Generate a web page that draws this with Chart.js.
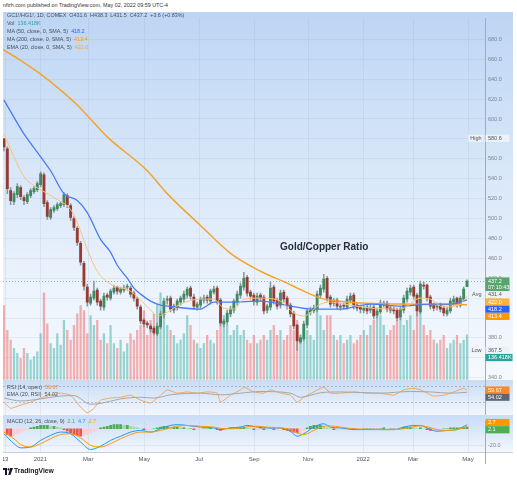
<!DOCTYPE html>
<html><head><meta charset="utf-8">
<script src="https://cdn.jsdelivr.net/npm/chart.js@4.4.1/dist/chart.umd.min.js"></script>
<style>
html,body{margin:0;padding:0;}
body{width:517px;height:480px;background:#fff;position:relative;overflow:hidden;font-family:"Liberation Sans",Arial,sans-serif;color:#3c4048;}
.abs{position:absolute;}
.pane{left:3px;width:510px;}
#mainBg{top:12px;height:368px;background:linear-gradient(to bottom,#bdd5f4 0%,#d3e4f8 35%,#ecf3fc 75%,#f5f9fe 100%);}
#rsiBg{top:380px;height:35px;background:linear-gradient(to bottom,#c9ddf6,#f3f7fd);border-top:1px solid #d3dbe6;box-sizing:border-box;}
#macdBg{top:415px;height:37px;background:linear-gradient(to bottom,#c9ddf6,#f3f7fd);border-top:1px solid #d3dbe6;box-sizing:border-box;}
.txt{font-size:5.4px;white-space:nowrap;color:#4a4f59;}
</style></head><body>
<div id="mainBg" class="abs pane"></div>
<div id="rsiBg" class="abs pane"></div>
<div id="macdBg" class="abs pane"></div>
<canvas id="cMain" class="abs" style="left:3px;top:12px;width:510px;height:374px" width="510" height="374"></canvas>
<canvas id="cRsi" class="abs" style="left:3px;top:380px;width:510px;height:35px" width="510" height="35"></canvas>
<canvas id="cMacd" class="abs" style="left:3px;top:415px;width:510px;height:50px" width="510" height="50"></canvas>

<div class="abs txt" style="left:3px;top:2px;color:#333">nftrh.com published on TradingView.com, May 02, 2022 09:59 UTC-4</div>
<div class="abs txt" style="left:7px;top:12px;line-height:7.9px">
<div>GC1!/HG1!, 1D, COMEX&nbsp; <span id="ohlc"></span></div>
<div>Vol&nbsp; <span id="lgVol" style="color:#26a69a"></span></div>
<div>MA (50, close, 0, SMA, 5)&nbsp; <span id="lgMa50" style="color:#2962ff"></span></div>
<div>MA (200, close, 0, SMA, 5)&nbsp; <span id="lgMa200" style="color:#ff9800"></span></div>
<div>EMA (20, close, 0, SMA, 5)&nbsp; <span id="lgEma" style="color:#ffa726"></span></div>
</div>
<div class="abs" style="left:280px;top:241px;font-size:10px;font-weight:bold;color:#2a2e39;line-height:12px;white-space:nowrap">Gold/Copper Ratio</div>
<div class="abs txt" style="left:7px;top:383.5px;line-height:7px">
<div>RSI (14, open)&nbsp; <span id="lgRsi" style="color:#f7892b"></span></div>
<div>EMA (20, RSI)&nbsp; <span id="lgRsiEma" style="color:#555"></span></div>
</div>
<div class="abs txt" style="left:7px;top:417px;line-height:8px">
<div>MACD (12, 26, close, 9)&nbsp; <span id="lgHist" style="color:#4caf50"></span>&nbsp; <span id="lgMacd" style="color:#2196f3"></span>&nbsp; <span id="lgSig" style="color:#ff9800"></span></div>
</div>
<svg class="abs" style="left:3px;top:468px" width="10" height="7" viewBox="0 0 10 7">
<path d="M0 0H4V7H2V2H0Z" fill="#131722"/><circle cx="5.6" cy="1.3" r="1.1" fill="#131722"/><path d="M7.2 0H10L7.4 7H5.2Z" fill="#131722"/></svg>
<div class="abs" style="left:14px;top:467px;font-size:6.8px;font-weight:bold;color:#131722;white-space:nowrap;line-height:8px">TradingView</div>

<script>
// ---------- data ----------
const opens=[580,570,528,517,524,531,521,517,523,527,
 529,534,544,516,501,508,510,513,514,523,
 513,500,490,475,455,431,415,420,428,417,
 411,423,420,426,431,426,428,431,430,425,
 419,411,398,395,392,390,384,391,403,418,
 420,408,411,416,419,423,430,421,411,413,
 418,421,417,426,430,418,394,396,404,408,
 416,423,431,441,426,423,416,423,421,408,
 411,431,418,413,426,420,413,405,393,376,
 379,393,406,407,409,423,429,440,421,415,
 418,411,413,411,418,423,413,411,408,411,
 408,411,403,406,414,415,410,409,408,401,
 408,419,426,431,423,406,433,433,421,413,
 411,413,410,404,407,416,420,413,419,431.6];
const highs=[580.6,572,531,527,535,533,523,526,530,532,
 537,547,546,518,511,513,516,517,526,525,
 515,502,492,477,457,434,424,437,430,419,
 425,425,429,433,432,431,433,434,432,427,
 421,413,400,397,394,392,395,407,420,422,
 422,414,419,422,427,431,432,424,416,421,
 423,423,429,432,432,420,399,408,412,419,
 427,435,446,443,428,425,425,425,423,414,
 436,433,420,428,428,422,415,407,394,383,
 397,410,411,413,427,433,444,442,423,420,
 420,415,415,422,425,425,415,413,413,413,
 413,413,409,418,417,417,412,411,410,411,
 423,430,433,433,425,437,436,434,423,415,
 415,415,412,411,420,422,421,422,431,438.3];
const lows=[568,525,514,514,521,519,514,515,521,525,
 527,532,512,499,499,506,508,511,512,511,
 498,488,473,453,428,412,413,418,413,408,
 408,418,418,424,424,424,426,428,421,417,
 409,394,391,390,386,383,382,389,400,414,
 406,405,408,413,416,420,419,409,408,410,
 415,415,414,424,414,392,391,393,401,405,
 413,420,428,422,419,413,413,417,404,405,
 408,414,409,410,416,409,401,389,367.5,374,
 377,390,403,405,406,420,426,417,411,412,
 409,408,409,409,415,409,407,405,405,404,
 405,399,400,404,411,406,405,404,397,398,
 405,416,423,419,402,404,429,417,409,407,
 408,406,402,402,405,413,411,411,417,431.5];
const closes=[572,530,518,525,532,522,518,524,528,530,
 535,545,515,502,509,511,514,515,524,514,
 501,491,476,456,432,416,421,427,416,412,
 422,421,427,430,427,429,430,431,424,420,
 412,397,394,393,389,385,392,404,417,419,
 409,412,417,420,424,429,422,412,414,419,
 420,418,427,429,417,395,397,405,409,417,
 424,432,440,425,422,417,422,420,407,412,
 430,417,412,425,419,412,404,392,377,380,
 394,407,408,410,424,430,439,420,414,417,
 412,412,412,419,422,412,410,409,410,407,
 410,402,407,415,414,409,408,407,400,409,
 420,427,430,422,407,434,432,420,412,410,
 412,409,405,408,417,419,414,420,429,437.2];
const volumes=[225,150,120,95,80,65,95,80,60,70,
 85,140,264,170,110,95,140,105,180,150,
 120,165,200,225,210,140,195,165,180,120,
 140,110,165,110,95,120,85,110,140,120,
 150,165,210,135,180,200,230,264,195,165,
 150,135,110,120,140,195,165,120,110,95,
 110,135,120,110,150,180,195,165,135,150,
 165,135,150,120,110,135,110,120,135,120,
 150,165,135,150,120,135,165,150,180,135,
 165,150,135,120,210,195,150,195,195,135,
 120,135,110,120,135,110,120,135,150,135,
 165,180,219,195,165,135,150,165,180,195,
 165,180,195,150,225,210,165,135,150,120,
 110,120,135,95,110,120,135,110,120,136.418];
const ma50Idx=[0,6,11,14,18,22,25,29,32,34,37,39,41,44,47,49,59,63,68,77,86,92,101,110,119,128,134,139];
const ma50Val=[619,585,562,548,525,518,506,479,466,453,440,430,424,417,413,412,409,416,416,417,412,409,409,414,412,414,414,418.2];
const ma200Idx=[-1,5,11,17,22,31,43,49,59,68,77,85,90,95,100,107,119,131,139];
const ma200Val=[671,659,645,629,614,582,548,525,493,465,447,435,427,420,417,415,414,413.6,413.4];
const emaIdx=[0,3,6,9,12,16,20,22,25,28,32,38,44,46,48,50,53,59,63,66,69,72,77,83,87,90,95,98,102,110,119,125,128,132,137,139];
const emaVal=[585,562,542,533,527,519,509,496,469,447,434,427,408,402,404,408,414,419,419,410,409,419,420,417,405,402,414,416,414,410,409,420,419,411,414,422.0];
const rsiIdx=[0,2,5,8,11,14,17,20,23,25,27,29,32,35,38,41,44,47,49,52,55,58,61,64,65,68,71,72,75,78,80,83,86,88,90,93,96,98,101,105,109,113,117,120,123,125,127,129,132,135,138,139];
const rsiVal=[30,15,23,30,40,47,52,47,18,4,15,35,40,42,47,35,28,47,60,52,55,52,55,52,30,47,60,67,55,52,60,52,47,30,42,55,67,52,52,55,52,52,47,60,64,60,52,45,47,55,64,59.67];
const rsiEmaIdx=[0,5,11,17,21,26,29,35,41,45,50,59,65,71,77,86,89,95,101,113,122,128,134,139];
const rsiEmaVal=[40,33,38,45,46,25,27,38,42,40,48,52,48,52,56,52,42,53,55,52,56,55,52,54.02];
const macdIdx=[0,3,5,8,11,14,17,20,23,26,29,32,35,38,41,44,47,49,52,55,59,63,65,68,71,73,76,79,83,86,88,90,93,96,98,101,105,109,113,117,120,123,125,127,130,133,136,139];
const macdVal=[-6,-18,-23,-22,-14,-8,-4,-6,-16,-25,-21,-14,-9,-4,-2,-4,0,3,5,4,2,1,-1,1,2,4,2,1,1,-3,-9,-6,2,6,2,1,-1,-1,-1,-1,2,4,4,1,-3,-2,-1,4.7];
const signalVal=[-4,-12,-19,-22,-18,-12,-7,-6,-11,-20,-22,-18,-12,-7,-4,-4,-2,0,3,4,3,2,0.5,0,1,2.5,3,2,1,-1,-5,-7,-2,3,3.5,2,0,-0.5,-1,-1,0,2.5,3.5,2.5,-1,-2,-1,2.7];
const histVal=[-4,-7,-9,-8,-6,-4,-2,-1,1,2,3,4,4,4,3,3,2,1,-1,-3,
 -5,-7,-8,-9,-8,-7,-5,-3,-1,1,2,3,4,5,5,5,4,4,3,2,
 1,0,-1,-1,-1,0,1,2,3,3,2,2,2,1,1,0,0,-1,-1,-1,
 0,0,1,0,-1,-2,-1,0,1,1,1,2,2,1,0,-1,-1,0,-1,-1,
 0,-1,-1,0,-1,-2,-3,-4,-5,-4,-2,1,3,4,4,4,3,1,0,-1,
 -1,-1,-1,0,0,-1,-1,-1,0,0,0,-1,0,0,1,0,0,-1,-1,0,
 2,2,2,1,0,1,0,-1,-2,-2,-2,-1,0,0,1,1,1,1,2,2.1];
const priceTicks=[340,360,380,400,420,440,460,480,500,520,540,560,580,600,620,640,660,680];
const dateTickLabels=['13','2021','Mar','May','Jul','Sep','Nov','2022','Mar','May'];
const dateTickIndex=[0.3,10.9,25.3,42.1,58.6,75.1,91.3,107.8,122.8,139.3];
const avgPrice=431.4;
const countdown='07:10:43';
const changeText='+3.6 (+0.83%)';

// ---------- helpers ----------
const last=a=>a[a.length-1];
const X_MIN=-0.3, X_MAX=144.4, AXIS_W=28;
const FONT='"Liberation Sans", Arial, sans-serif';
Chart.defaults.font.family=FONT;
Chart.defaults.animation=false;
const xOpt=()=>({type:'linear',min:X_MIN,max:X_MAX,display:false,offset:false});
const fixW=s=>{s.width=AXIS_W;};
const pts=(xs,ys)=>xs.map((x,i)=>({x,y:ys[i]}));

document.getElementById('ohlc').textContent='O'+last(opens).toFixed(1)+'\u00a0 H'+last(highs).toFixed(1)+'\u00a0 L'+last(lows).toFixed(1)+'\u00a0 C'+last(closes).toFixed(1)+'\u00a0 '+changeText;
document.getElementById('lgVol').textContent=last(volumes).toFixed(3)+'K';
document.getElementById('lgMa50').textContent=last(ma50Val).toFixed(1);
document.getElementById('lgMa200').textContent=last(ma200Val).toFixed(1);
document.getElementById('lgEma').textContent=last(emaVal).toFixed(1);
document.getElementById('lgRsi').textContent=last(rsiVal).toFixed(2);
document.getElementById('lgRsiEma').textContent=last(rsiEmaVal).toFixed(2);
document.getElementById('lgHist').textContent=last(histVal).toFixed(1);
document.getElementById('lgMacd').textContent=last(macdVal).toFixed(1);
document.getElementById('lgSig').textContent=last(signalVal).toFixed(1);

function monthGrid(chart){
  const {ctx,chartArea:a,scales:{x}}=chart;
  ctx.save();ctx.strokeStyle='rgba(140,160,195,0.16)';ctx.lineWidth=1;
  dateTickIndex.forEach(v=>{const px=Math.round(x.getPixelForValue(v))+0.5;ctx.beginPath();ctx.moveTo(px,a.top);ctx.lineTo(px,a.bottom);ctx.stroke();});
  ctx.restore();
}
function boxStack(ctx,items,x0){
  let prev=-1e9;
  ctx.save();
  ctx.font='5.5px '+FONT;ctx.textBaseline='middle';
  for(const it of items){
    const lh=6.6,h=it.lines.length*lh+0.6,w=it.w||24;
    let top=Math.max(it.y-lh/2-0.3,prev);
    ctx.fillStyle=it.bg;ctx.fillRect(x0,top,w,h);
    ctx.fillStyle=it.fg;ctx.textAlign='left';
    it.lines.forEach((t,k)=>ctx.fillText(t,x0+2.5,top+0.3+lh*(k+0.5)));
    if(it.side){
      const tw=ctx.measureText(it.side).width;
      ctx.fillStyle='rgba(238,242,248,0.95)';ctx.fillRect(x0-tw-6,top,tw+4,h);
      ctx.fillStyle='#555';ctx.textAlign='right';ctx.fillText(it.side,x0-4,top+0.3+lh/2);
    }
    prev=top+h;
  }
  ctx.restore();
}

// ---------- main pane ----------
const upC='#3d8b5f',dnC='#973a31';
const mainPlugin={id:'mainDecor',
  beforeDatasetsDraw(chart){
    monthGrid(chart);
    const {ctx,chartArea:a,scales:{y}}=chart;
    const py=Math.round(y.getPixelForValue(last(closes)))+0.5;
    ctx.save();ctx.setLineDash([1,2]);ctx.strokeStyle='rgba(70,150,100,0.6)';ctx.lineWidth=1;
    ctx.beginPath();ctx.moveTo(a.left,py);ctx.lineTo(a.right,py);ctx.stroke();ctx.restore();
  },
  afterDraw(chart){
    const {ctx,chartArea:a,scales:{y,vol}}=chart;const x0=a.right+0.5;
    boxStack(ctx,[
      {y:y.getPixelForValue(last(closes)),lines:[last(closes).toFixed(1),countdown],bg:'#5aa56e',fg:'#fff'},
      {y:y.getPixelForValue(avgPrice),lines:[avgPrice.toFixed(1)],bg:'#eef2f8',fg:'#555',side:'Avg'},
      {y:y.getPixelForValue(last(emaVal)),lines:[last(emaVal).toFixed(1)],bg:'#ffb13d',fg:'#fff'},
      {y:y.getPixelForValue(last(ma50Val)),lines:[last(ma50Val).toFixed(1)],bg:'#2962ff',fg:'#fff'},
      {y:y.getPixelForValue(last(ma200Val)),lines:[last(ma200Val).toFixed(1)],bg:'#ff9800',fg:'#fff'}
    ],x0);
    const hi=Math.max(...highs),lo=Math.min(...lows);
    boxStack(ctx,[{y:y.getPixelForValue(hi),lines:[hi.toFixed(1)],bg:'#eef2f8',fg:'#555',side:'High'}],x0);
    boxStack(ctx,[
      {y:y.getPixelForValue(lo),lines:[lo.toFixed(1)],bg:'#eef2f8',fg:'#555',side:'Low'},
      {y:vol.getPixelForValue(last(volumes)),lines:[last(volumes).toFixed(3)+'K'],bg:'#26a69a',fg:'#fff',w:27}
    ],x0);
  }};
new Chart(document.getElementById('cMain'),{
  type:'bar',
  data:{datasets:[
    {type:'line',data:pts(emaIdx,emaVal),borderColor:'#f9c27a',borderWidth:1,pointRadius:0,cubicInterpolationMode:'monotone',order:0},
    {type:'line',data:pts(ma50Idx,ma50Val),borderColor:'#4a7bf5',borderWidth:1.3,pointRadius:0,cubicInterpolationMode:'monotone',order:0},
    {type:'line',data:pts(ma200Idx,ma200Val),borderColor:'#f6a32e',borderWidth:1.5,pointRadius:0,cubicInterpolationMode:'monotone',order:0},
    {type:'bar',data:closes.map((c,i)=>({x:i,y:[opens[i],c]})),backgroundColor:closes.map((c,i)=>c>=opens[i]?upC:dnC),barThickness:2.2,minBarLength:1,grouped:false,order:1},
    {type:'bar',data:highs.map((h,i)=>({x:i,y:[lows[i],h]})),backgroundColor:'#8896a3',barThickness:0.9,grouped:false,order:2},
    {type:'bar',data:volumes.map((v,i)=>({x:i,y:v})),backgroundColor:closes.map((c,i)=>c>=opens[i]?'rgba(38,166,154,0.45)':'rgba(239,83,80,0.45)'),barThickness:1.6,grouped:false,order:10,yAxisID:'vol'}
  ]},
  options:{responsive:false,maintainAspectRatio:false,animation:false,
    layout:{padding:{left:0,right:0,top:0,bottom:6}},
    plugins:{legend:{display:false},tooltip:{enabled:false}},
    scales:{
      x:xOpt(),
      y:{position:'right',min:338,max:701.2,afterFit:fixW,
        afterBuildTicks:s=>{s.ticks=priceTicks.map(v=>({value:v}));},
        ticks:{callback:v=>Number(v).toFixed(1),font:{size:5.5},color:'#7a838f',padding:3},
        grid:{color:'rgba(140,165,200,0.15)',drawTicks:false},
        border:{display:true,color:'#a3abb5',width:1}},
      vol:{display:false,min:0,max:1098}
    }},
  plugins:[mainPlugin]
});

// ---------- RSI pane ----------
const rsiPlugin={id:'rsiDecor',
  beforeDatasetsDraw(chart){
    monthGrid(chart);
    const {ctx,chartArea:a,scales:{y}}=chart;
    ctx.save();ctx.setLineDash([2,2]);ctx.strokeStyle='rgba(120,125,135,0.45)';ctx.lineWidth=1;
    [70,30].forEach(v=>{const py=Math.round(y.getPixelForValue(v))+0.5;ctx.beginPath();ctx.moveTo(a.left,py);ctx.lineTo(a.right,py);ctx.stroke();});
    ctx.restore();
  },
  afterDraw(chart){
    const {ctx,chartArea:a,scales:{y}}=chart;
    boxStack(ctx,[
      {y:y.getPixelForValue(last(rsiVal)),lines:[last(rsiVal).toFixed(2)],bg:'#f7892b',fg:'#fff'},
      {y:y.getPixelForValue(last(rsiEmaVal)),lines:[last(rsiEmaVal).toFixed(2)],bg:'#5f6672',fg:'#fff'}
    ],a.right+0.5);
  }};
new Chart(document.getElementById('cRsi'),{
  type:'line',
  data:{datasets:[
    {data:pts(rsiEmaIdx,rsiEmaVal),borderColor:'#a2a7ae',borderWidth:1,pointRadius:0,cubicInterpolationMode:'monotone'},
    {data:pts(rsiIdx,rsiVal),borderColor:'#f5a55a',borderWidth:1,pointRadius:0,tension:0.15}
  ]},
  options:{responsive:false,maintainAspectRatio:false,animation:false,layout:{padding:0},
    plugins:{legend:{display:false},tooltip:{enabled:false}},
    scales:{x:xOpt(),
      y:{position:'right',min:-1.3,max:84.1,afterFit:fixW,ticks:{display:false},grid:{display:false},
        border:{display:true,color:'#a3abb5',width:1}}}},
  plugins:[rsiPlugin]
});

// ---------- MACD pane ----------
const macdPlugin={id:'macdDecor',
  beforeDatasetsDraw(chart){monthGrid(chart);},
  afterDraw(chart){
    const {ctx,chartArea:a,scales:{x,y}}=chart;
    boxStack(ctx,[
      {y:y.getPixelForValue(last(signalVal))-4,lines:[last(signalVal).toFixed(1)],bg:'#ff9800',fg:'#fff'},
      {y:y.getPixelForValue(last(histVal)),lines:[last(histVal).toFixed(1)],bg:'#4caf50',fg:'#fff'}
    ],a.right+0.5);
    ctx.save();
    ctx.strokeStyle='#c6cdd6';ctx.lineWidth=1;
    ctx.beginPath();ctx.moveTo(a.left,a.bottom+0.5);ctx.lineTo(a.right+AXIS_W,a.bottom+0.5);ctx.stroke();
    ctx.strokeStyle='#a3abb5';
    ctx.beginPath();ctx.moveTo(a.right+0.5,a.bottom);ctx.lineTo(a.right+0.5,a.bottom+12);ctx.stroke();
    ctx.fillStyle='#50555e';ctx.font='6px '+FONT;ctx.textAlign='center';ctx.textBaseline='middle';
    dateTickLabels.forEach((t,i)=>ctx.fillText(t,x.getPixelForValue(dateTickIndex[i]),a.bottom+7));
    ctx.restore();
  }};
new Chart(document.getElementById('cMacd'),{
  type:'bar',
  data:{datasets:[
    {type:'line',data:pts(macdIdx,signalVal),borderColor:'#ff9800',borderWidth:1,pointRadius:0,cubicInterpolationMode:'monotone',order:0},
    {type:'line',data:pts(macdIdx,macdVal),borderColor:'#2196f3',borderWidth:1,pointRadius:0,cubicInterpolationMode:'monotone',order:0},
    {type:'bar',data:histVal.map((h,i)=>({x:i,y:h})),
      backgroundColor:histVal.map((h,i)=>{const p=i?histVal[i-1]:h;return h>=0?(h>=p?'#4caf50':'#a5d6a7'):(h<p?'#ef5350':'#ffcdd2');}),
      barThickness:2.2,grouped:false,order:2}
  ]},
  options:{responsive:false,maintainAspectRatio:false,animation:false,
    layout:{padding:{left:0,right:0,top:0,bottom:13}},
    plugins:{legend:{display:false},tooltip:{enabled:false}},
    scales:{x:xOpt(),
      y:{position:'right',min:-28,max:9,afterFit:fixW,
        afterBuildTicks:s=>{s.ticks=[{value:-20}];},
        ticks:{callback:v=>Number(v).toFixed(1),font:{size:5.5},color:'#7a838f',padding:3},
        grid:{color:'rgba(140,165,200,0.15)',drawTicks:false},
        border:{display:true,color:'#a3abb5',width:1}}}},
  plugins:[macdPlugin]
});
</script>
</body></html>
